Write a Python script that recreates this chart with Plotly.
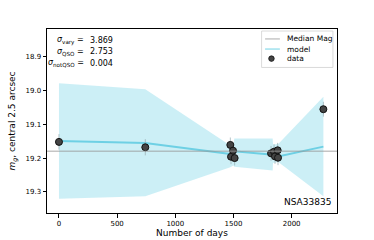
import plotly.graph_objects as go

# data
days = [0, 742, 1473, 1479, 1496, 1510, 1823, 1849, 1857, 1880, 1883, 2273]
mags = [19.152, 19.168, 19.161, 19.196, 19.178, 19.200, 19.186, 19.181, 19.195, 19.177, 19.199, 19.055]
errs = [0.023, 0.024, 0.022, 0.022, 0.022, 0.022, 0.022, 0.022, 0.022, 0.022, 0.022, 0.022]

model_t = [0, 742, 1473, 1500, 1507, 1837, 1840, 1885, 2273]
model_mean = [19.149, 19.155, 19.188, 19.192, 19.180, 19.188, 19.190, 19.195, 19.166]
model_upper = [18.978, 18.996, 19.163, 19.165, 19.142, 19.142, 19.160, 19.158, 19.018]
model_lower = [19.321, 19.313, 19.227, 19.222, 19.226, 19.237, 19.215, 19.212, 19.313]

median_mag = 19.18
x_ticks = [0, 500, 1000, 1500, 2000]
y_ticks = [18.9, 19.0, 19.1, 19.2, 19.3]
legend_labels = ["Median Mag", "model", "data"]
sigma_labels = ["<i>σ</i><sub>vary</sub> =", "<i>σ</i><sub>QSO</sub> =", "<i>σ</i><sub>notQSO</sub> ="]
sigma_values = ["3.869", "2.753", "0.004"]
object_name = "NSA33835"

FONT = "DejaVu Sans"
band_col = "rgba(110,208,228,0.35)"
line_col = "rgb(110,208,228)"
median_col = "rgba(150,150,150,0.55)"
marker_col = "#444444"

fig = go.Figure()
fig.add_trace(go.Scatter(x=model_t, y=model_upper, mode="lines", line=dict(width=0, color=band_col),
                         showlegend=False, hoverinfo="skip"))
fig.add_trace(go.Scatter(x=model_t, y=model_lower, mode="lines", line=dict(width=0, color=band_col),
                         fill="tonexty", fillcolor=band_col, showlegend=False, hoverinfo="skip"))
fig.add_trace(go.Scatter(x=model_t, y=model_mean, mode="lines", name="model", showlegend=False,
                         line=dict(color=line_col, width=2)))
fig.add_trace(go.Scatter(x=days, y=mags, mode="markers", name="data", showlegend=False,
                         error_y=dict(type="data", array=errs, color="rgba(150,170,175,0.7)", thickness=1, width=0),
                         marker=dict(color=marker_col, size=7, line=dict(color="#111111", width=1))))

fig.add_shape(type="line", xref="x domain", x0=0, x1=1, yref="y", y0=median_mag, y1=median_mag,
              line=dict(color=median_col, width=1.5), layer="above")

# sigma annotations
for i, (lab, val) in enumerate(zip(sigma_labels, sigma_values)):
    yy = 0.94 - i * 0.0625
    fig.add_annotation(xref="paper", yref="paper", x=0.133, y=yy, xanchor="right", yanchor="middle",
                       text=lab, showarrow=False, font=dict(family=FONT, size=8, color="black"))
    fig.add_annotation(xref="paper", yref="paper", x=0.143, y=yy, xanchor="left", yanchor="middle",
                       text=val, showarrow=False, font=dict(family=FONT, size=8, color="black"))

fig.add_annotation(xref="paper", yref="paper", x=0.985, y=0.02, xanchor="right", yanchor="bottom",
                   text=object_name, showarrow=False, font=dict(family=FONT, size=9, color="black"))

# manual legend (matplotlib-style)
fig.add_shape(type="rect", xref="paper", yref="paper", x0=0.740, x1=0.986, y0=0.791, y1=0.989,
              line=dict(color="#d0d0d0", width=0.8), fillcolor="rgba(255,255,255,0.8)", layer="above")
leg_y = [0.946, 0.891, 0.839]
fig.add_shape(type="line", xref="paper", yref="paper", x0=0.752, x1=0.803, y0=leg_y[0], y1=leg_y[0],
              line=dict(color="rgb(185,185,185)", width=1.2), layer="above")
fig.add_shape(type="line", xref="paper", yref="paper", x0=0.752, x1=0.803, y0=leg_y[1], y1=leg_y[1],
              line=dict(color="rgb(160,225,238)", width=1.5), layer="above")
fig.add_shape(type="circle", xref="paper", yref="paper", x0=0.774 - 0.0095, x1=0.774 + 0.0095,
              y0=leg_y[2] - 0.015, y1=leg_y[2] + 0.015,
              line=dict(color="#111111", width=0.8), fillcolor=marker_col, layer="above")
for lab, yy in zip(legend_labels, leg_y):
    fig.add_annotation(xref="paper", yref="paper", x=0.822, y=yy, xanchor="left", yanchor="middle",
                       text=lab, showarrow=False, font=dict(family=FONT, size=7.5, color="black"))

axis_common = dict(showgrid=False, zeroline=False, showline=True, linecolor="black", linewidth=1,
                   mirror=True, ticks="outside", ticklen=3.5, tickwidth=0.8, tickcolor="black",
                   tickfont=dict(family=FONT, size=7, color="black"), automargin=False)

fig.update_layout(
    width=374, height=240,
    margin=dict(l=47, r=37, t=29, b=27),
    paper_bgcolor="white", plot_bgcolor="white",
    font=dict(family=FONT, color="black"),
    showlegend=False,
    xaxis=dict(range=[-103, 2390], tickvals=x_ticks,
               title=dict(text="Number of days", font=dict(family=FONT, size=9, color="black"), standoff=2),
               **axis_common),
    yaxis=dict(range=[19.363, 18.817], tickvals=y_ticks, tickformat=".1f",
               title=dict(text="<i>m</i><sub><i>g</i></sub>, central 2.5 arcsec",
                          font=dict(family=FONT, size=9, color="black"), standoff=8),
               **axis_common),
)

fig.write_html("out.html", config={"displayModeBar": False},
               post_script="document.body.style.margin='0';document.body.style.padding='0';")
